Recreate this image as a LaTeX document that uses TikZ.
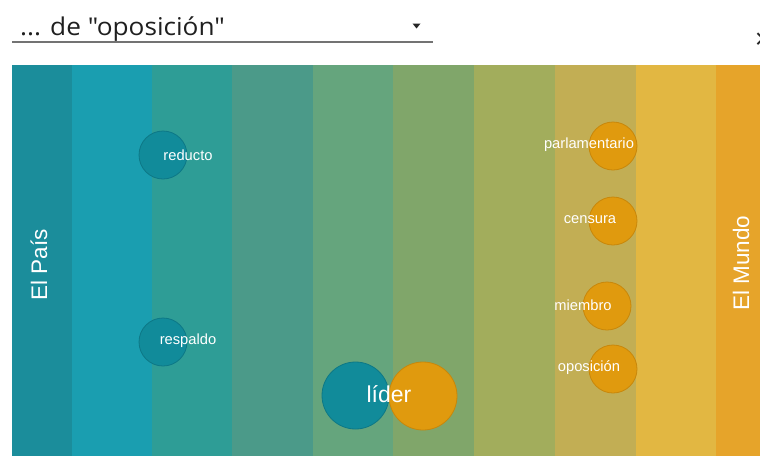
\documentclass[tikz,border=0pt]{standalone}
\usepackage{fontspec}
\setmainfont{Liberation Sans}
\newfontfamily\titlefont{Open Sans}
\definecolor{s1}{HTML}{1B8D9B}
\definecolor{s2}{HTML}{1A9EB0}
\definecolor{s3}{HTML}{2E9D96}
\definecolor{s4}{HTML}{4B9A89}
\definecolor{s5}{HTML}{65A57D}
\definecolor{s6}{HTML}{80A66A}
\definecolor{s7}{HTML}{A2AD5C}
\definecolor{s8}{HTML}{C2AE54}
\definecolor{s9}{HTML}{E2B742}
\definecolor{s10}{HTML}{E6A42A}
\definecolor{tealfill}{HTML}{118B9A}
\definecolor{tealedge}{HTML}{0D7886}
\definecolor{orfill}{HTML}{E09A0E}
\definecolor{oredge}{HTML}{C8870A}
\begin{document}
\begin{tikzpicture}[x=1pt,y=-1pt,
  tealc/.style={circle, fill=tealfill, draw=tealedge, line width=0.8pt, inner sep=0pt},
  orc/.style={circle, fill=orfill, draw=oredge, line width=0.8pt, inner sep=0pt},
  lbl/.style={text=white, inner sep=0pt, font=\fontsize{14.7}{16}\selectfont},
  side/.style={text=white, inner sep=0pt, rotate=90, font=\fontsize{22.5}{24}\selectfont}]
\useasboundingbox (0,0) rectangle (760,456);
\fill[white] (0,0) rectangle (760,456);
% stripes
\fill[s1] (12,65) rectangle (71.5,456);
\fill[s2] (71.5,65) rectangle (151.5,456);
\fill[s3] (151.5,65) rectangle (231.5,456);
\fill[s4] (231.5,65) rectangle (312.5,456);
\fill[s5] (312.5,65) rectangle (393,456);
\fill[s6] (393,65) rectangle (474,456);
\fill[s7] (474,65) rectangle (555,456);
\fill[s8] (555,65) rectangle (636,456);
\fill[s9] (636,65) rectangle (716,456);
\fill[s10] (716,65) rectangle (760,456);
% header
\node[anchor=base west, inner sep=0pt, xscale=1.07, text=black!88, font=\titlefont\fontsize{24.5}{26}\selectfont] (title) at (20,35) {... de "oposición"};
\draw[black!55, line width=2pt] (12,41.5) -- (432.5,41.5);
\fill[black!85] (412.5,23.5) -- (420.5,23.5) -- (416.5,28.5) -- cycle;
\node[inner sep=0pt, text=black!85, font=\fontsize{28}{30}\selectfont] (close) at (763,41) {×};
% side labels
\node[side] (pais) at (39,265) {El País};
\node[side] (mundo) at (741,263) {El Mundo};
% circles
\node[tealc, minimum size=48pt] (reducto) at (163,155) {};
\node[tealc, minimum size=48pt] (respaldo) at (163,342) {};
\node[tealc, minimum size=67pt] (liderA) at (355.5,395.5) {};
\node[orc, minimum size=68pt] (liderB) at (423,396) {};
\node[orc, minimum size=48pt] (parl) at (613,146) {};
\node[orc, minimum size=48pt] (cens) at (613,221) {};
\node[orc, minimum size=48pt] (miem) at (607,306) {};
\node[orc, minimum size=48pt] (opos) at (613,369) {};
% labels
\node[lbl] (reductoT) at (188,155) {reducto};
\node[lbl] (respaldoT) at (188,341) {respaldo};
\node[text=white, inner sep=0pt, font=\fontsize{23}{25}\selectfont] (liderT) at (389,394) {líder};
\node[lbl] (parlT) at (589,145) {parlamentario};
\node[lbl] (censT) at (590,220) {censura};
\node[lbl] (miemT) at (583,305) {miembro};
\node[lbl] (oposT) at (589,368) {oposición};
\end{tikzpicture}
\end{document}
